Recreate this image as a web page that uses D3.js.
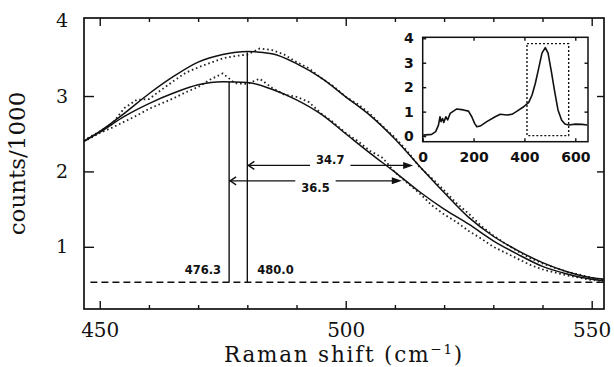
<!DOCTYPE html>
<html>
<head>
<meta charset="utf-8">
<script src="https://cdn.jsdelivr.net/npm/d3@7"></script>
<style>
  html, body { margin: 0; padding: 0; background: #fff; }
  svg { display: block; }
</style>
</head>
<body>
<div id="chart"></div>
<script>
// Fitted curves (Raman shift in cm-1, counts/1000).
const xFit = [446.8, 450, 455, 460, 465, 470, 475, 480, 485, 490, 495, 500, 505, 510, 515, 520, 525, 530, 535, 540, 545, 550, 552.5];
const fitUpper = [2.40, 2.53, 2.77, 3.03, 3.26, 3.45, 3.55, 3.59, 3.56, 3.43, 3.24, 2.99, 2.74, 2.43, 2.07, 1.72, 1.39, 1.14, 0.95, 0.79, 0.67, 0.59, 0.57];
const fitLower = [2.40, 2.52, 2.73, 2.90, 3.04, 3.15, 3.19, 3.18, 3.09, 2.95, 2.76, 2.50, 2.24, 1.99, 1.73, 1.50, 1.30, 1.08, 0.90, 0.74, 0.64, 0.57, 0.55];

// Measured points (dotted).
const xObs = [447.5, 450, 452.5, 455, 457.5, 460, 462.5, 465, 467.5, 470, 472.5, 475, 477.5, 480, 482.5, 485, 487.5, 490, 492.5, 495, 497.5, 500, 502.5, 505, 507.5, 510, 512.5, 515, 517.5, 520, 522.5, 525, 527.5, 530, 532.5, 535, 537.5, 540, 542.5, 545, 547.5, 550, 552.5];
const obsUpper = [2.44, 2.53, 2.63, 2.84, 2.95, 2.96, 3.08, 3.20, 3.31, 3.38, 3.44, 3.50, 3.53, 3.55, 3.63, 3.61, 3.55, 3.45, 3.37, 3.24, 3.13, 2.99, 2.89, 2.76, 2.60, 2.45, 2.27, 2.06, 1.91, 1.75, 1.58, 1.44, 1.28, 1.15, 1.04, 0.94, 0.85, 0.78, 0.72, 0.67, 0.63, 0.59, 0.56];
const obsLower = [2.42, 2.51, 2.58, 2.66, 2.74, 2.83, 2.90, 2.97, 3.05, 3.12, 3.22, 3.30, 3.17, 3.16, 3.23, 3.11, 3.02, 2.99, 2.92, 2.77, 2.65, 2.51, 2.40, 2.27, 2.18, 1.99, 1.85, 1.71, 1.55, 1.43, 1.33, 1.21, 1.11, 1.00, 0.92, 0.84, 0.76, 0.70, 0.66, 0.62, 0.59, 0.56, 0.54];

// Baseline, peak markers and half widths.
const baseline = 0.53;
const baselineRange = [448.1, 552.5];
const peakPos = [476.3, 480.0];
const peakTop = [3.19, 3.58];
const peakLabels = ['476.3', '480.0'];
const hwhmStart = [480.0, 476.3];
const hwhmEnd = [513.7, 511.4];
const hwhmLevel = [2.08, 1.875];
const hwhmLabels = ['34.7', '36.5'];

// Main axis ticks.
const xMajor = [450, 500, 550];
const xMinor = [460, 470, 480, 490, 510, 520, 530, 540];
const yTicks = [1, 2, 3, 4];

// Inset: full spectrum.
const insetX = [2, 35, 51, 62, 68, 72, 78, 83, 91, 98, 108, 121, 134, 160, 180, 193, 204, 213, 226, 252, 285, 305, 331, 351, 371, 397, 417, 430, 443, 456, 469, 482, 493, 506, 519, 532, 546, 559, 574, 601, 627, 647];
const insetY = [0.04, 0.07, 0.18, 0.45, 0.79, 0.59, 0.72, 0.56, 0.79, 0.66, 0.93, 1.02, 1.11, 1.07, 1.02, 0.79, 0.52, 0.38, 0.41, 0.59, 0.79, 0.89, 0.86, 0.89, 1.02, 1.20, 1.38, 1.68, 2.16, 2.77, 3.39, 3.62, 3.39, 2.64, 1.82, 1.07, 0.66, 0.49, 0.45, 0.49, 0.48, 0.45];
const insetBox = { x0: 410, x1: 574, y0: 0.02, y1: 3.78 };
const insetXTicks = [0, 200, 400, 600];
const insetYTicks = [0, 1, 2, 3, 4];

const svgWidth = 614, svgHeight = 367;
const serif = '"DejaVu Serif", serif';
const sansBold = '"DejaVu Sans", sans-serif';

const svg = d3.select('#chart')
  .append('svg')
  .attr('width', svgWidth)
  .attr('height', svgHeight);

const xScale = d3.scaleLinear().domain([446.8, 552.5]).range([84, 604]);
const yScale = d3.scaleLinear().domain([0.175, 4.035]).range([309, 18]);

// axes (ticks pointing inward)
const styleAxis = (g, size, family, weight) => {
  g.select('.domain').remove();
  g.selectAll('line').attr('stroke', '#111').attr('stroke-width', 1.4);
  g.attr('font-family', family).attr('font-size', size).attr('font-weight', weight || 'normal');
  g.selectAll('text').attr('fill', '#111');
};

svg.append('g')
  .attr('transform', 'translate(0,309)')
  .call(d3.axisBottom(xScale).tickValues(xMinor).tickSize(-4).tickFormat(''))
  .call(styleAxis, 20, serif);
svg.append('g')
  .attr('transform', 'translate(0,309)')
  .call(d3.axisBottom(xScale).tickValues(xMajor).tickSize(-8).tickPadding(14).tickFormat(d3.format('d')))
  .call(styleAxis, 20, serif);
svg.append('g')
  .attr('transform', 'translate(0,18)')
  .call(d3.axisTop(xScale).tickValues(xMinor).tickSize(-4).tickFormat(''))
  .call(styleAxis, 20, serif);
svg.append('g')
  .attr('transform', 'translate(0,18)')
  .call(d3.axisTop(xScale).tickValues(xMajor).tickSize(-8).tickFormat(''))
  .call(styleAxis, 20, serif);

const yAxisG = svg.append('g')
  .attr('transform', 'translate(84,0)')
  .call(d3.axisLeft(yScale).tickValues(yTicks).tickSize(-10).tickPadding(16).tickFormat(d3.format('d')))
  .call(styleAxis, 19, serif);
yAxisG.selectAll('.tick').filter(d => d === 4).select('line').remove();

svg.append('g')
  .attr('transform', 'translate(604,0)')
  .call(d3.axisRight(yScale).tickValues([1, 2, 3]).tickSize(-7).tickFormat(''))
  .call(styleAxis, 19, serif);

svg.append('rect')
  .attr('x', 84).attr('y', 18)
  .attr('width', 520).attr('height', 291)
  .attr('fill', 'none')
  .attr('stroke', '#111')
  .attr('stroke-width', 1.7);

// axis titles
const xTitle = svg.append('text')
  .attr('x', 344).attr('y', 361.8)
  .attr('text-anchor', 'middle')
  .attr('font-family', serif)
  .attr('font-size', 21.5)
  .attr('letter-spacing', 1.8)
  .attr('fill', '#111');
xTitle.append('tspan').text('Raman shift (cm');
xTitle.append('tspan').attr('font-size', 13.5).attr('dy', -8).text('\u22121');
xTitle.append('tspan').attr('dy', 8).text(')');

svg.append('text')
  .attr('transform', 'translate(25,163.5) rotate(-90)')
  .attr('text-anchor', 'middle')
  .attr('font-family', serif)
  .attr('font-size', 23)
  .attr('fill', '#111')
  .text('counts/1000');

// dashed baseline
svg.append('line')
  .attr('x1', xScale(baselineRange[0])).attr('x2', xScale(baselineRange[1]))
  .attr('y1', yScale(baseline)).attr('y2', yScale(baseline))
  .attr('stroke', '#111')
  .attr('stroke-width', 1.4)
  .attr('stroke-dasharray', '7,4');

// measured points as dotted traces
const obsLine = d3.line()
  .x((d, i) => xScale(xObs[i]))
  .y(d => yScale(d));

[obsUpper, obsLower].forEach(series => {
  svg.append('path')
    .attr('d', obsLine(series))
    .attr('fill', 'none')
    .attr('stroke', '#222')
    .attr('stroke-width', 1.8)
    .attr('stroke-dasharray', '1.6,2.8');
});

// fitted curves
const fitLine = d3.line()
  .x((d, i) => xScale(xFit[i]))
  .y(d => yScale(d))
  .curve(d3.curveMonotoneX);

[fitUpper, fitLower].forEach(series => {
  svg.append('path')
    .attr('d', fitLine(series))
    .attr('fill', 'none')
    .attr('stroke', '#111')
    .attr('stroke-width', 1.5);
});

// peak position markers
peakPos.forEach((p, i) => {
  svg.append('line')
    .attr('x1', xScale(p)).attr('x2', xScale(p))
    .attr('y1', yScale(baseline)).attr('y2', yScale(peakTop[i]))
    .attr('stroke', '#111')
    .attr('stroke-width', 1.4);

  svg.append('text')
    .attr('x', i === 0 ? xScale(p) - 8 : xScale(p) + 10)
    .attr('y', yScale(baseline) - 8)
    .attr('text-anchor', i === 0 ? 'end' : 'start')
    .attr('font-family', sansBold)
    .attr('font-weight', 'bold')
    .attr('font-size', 11.5)
    .attr('fill', '#111')
    .text(peakLabels[i]);
});

// half-width arrows
hwhmLabels.forEach((lab, i) => {
  const x0 = xScale(hwhmStart[i]),
        x1 = xScale(hwhmEnd[i]),
        y = yScale(hwhmLevel[i]),
        cx = (x0 + x1) / 2;

  const t = svg.append('text')
    .attr('x', cx)
    .attr('y', i === 0 ? y - 1 : y + 11.5)
    .attr('text-anchor', 'middle')
    .attr('font-family', sansBold)
    .attr('font-weight', 'bold')
    .attr('font-size', 11.5)
    .attr('fill', '#111')
    .text(lab);
  const half = t.node().getComputedTextLength() / 2 + 6;

  svg.append('line')
    .attr('x1', x0).attr('x2', cx - half)
    .attr('y1', y).attr('y2', y)
    .attr('stroke', '#111').attr('stroke-width', 1.4);
  svg.append('line')
    .attr('x1', cx + half).attr('x2', x1 - 6)
    .attr('y1', y).attr('y2', y)
    .attr('stroke', '#111').attr('stroke-width', 1.4);

  svg.append('path')
    .attr('d', `M${x0 + 7},${y - 4}L${x0 + 1},${y}L${x0 + 7},${y + 4}`)
    .attr('fill', 'none')
    .attr('stroke', '#111')
    .attr('stroke-width', 1.4);
  svg.append('path')
    .attr('d', `M${x1},${y}L${x1 - 10},${y - 3.5}L${x1 - 10},${y + 3.5}Z`)
    .attr('fill', '#111');
});

// inset
const xi = d3.scaleLinear().domain([0, 650]).range([422.7, 588]);
const yi = d3.scaleLinear().domain([-0.23, 4.04]).range([141.7, 37.3]);

svg.append('rect')
  .attr('x', 420).attr('y', 34)
  .attr('width', 172).attr('height', 110)
  .attr('fill', '#fff');

svg.append('g')
  .attr('transform', 'translate(0,141.7)')
  .call(d3.axisBottom(xi).tickValues(insetXTicks).tickSize(-3.5).tickPadding(10).tickFormat(d3.format('d')))
  .call(styleAxis, 14, sansBold, 'bold');
svg.append('g')
  .attr('transform', 'translate(0,37.3)')
  .call(d3.axisTop(xi).tickValues(insetXTicks.slice(1)).tickSize(-3.5).tickFormat(''))
  .call(styleAxis, 14, sansBold, 'bold');
svg.append('g')
  .attr('transform', 'translate(422.7,0)')
  .call(d3.axisLeft(yi).tickValues(insetYTicks).tickSize(-3.5).tickPadding(9).tickFormat(d3.format('d')))
  .call(styleAxis, 14, sansBold, 'bold');
svg.append('g')
  .attr('transform', 'translate(588,0)')
  .call(d3.axisRight(yi).tickValues([1, 2, 3]).tickSize(-3.5).tickFormat(''))
  .call(styleAxis, 14, sansBold, 'bold');

svg.append('rect')
  .attr('x', 422.7).attr('y', 37.3)
  .attr('width', 588 - 422.7).attr('height', 141.7 - 37.3)
  .attr('fill', 'none')
  .attr('stroke', '#111')
  .attr('stroke-width', 1.5);

svg.append('rect')
  .attr('x', xi(insetBox.x0)).attr('y', yi(insetBox.y1))
  .attr('width', xi(insetBox.x1) - xi(insetBox.x0))
  .attr('height', yi(insetBox.y0) - yi(insetBox.y1))
  .attr('fill', 'none')
  .attr('stroke', '#111')
  .attr('stroke-width', 1.4)
  .attr('stroke-dasharray', '2,2');

svg.append('path')
  .attr('d', d3.line().x((d, i) => xi(insetX[i])).y(d => yi(d))(insetY))
  .attr('fill', 'none')
  .attr('stroke', '#111')
  .attr('stroke-width', 1.6)
  .attr('stroke-linejoin', 'round');
</script>
</body>
</html>
